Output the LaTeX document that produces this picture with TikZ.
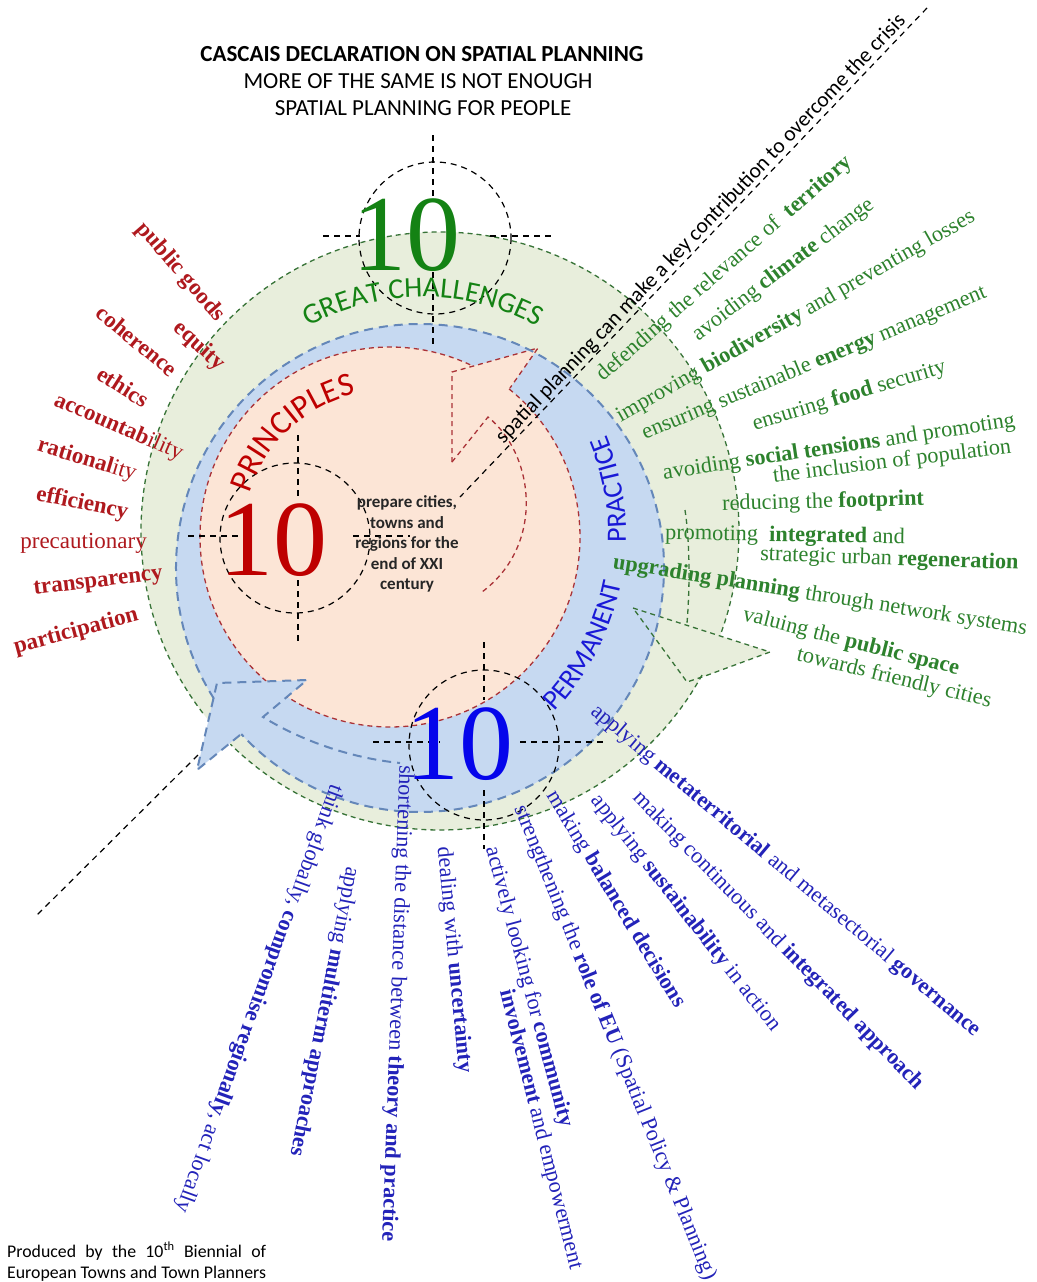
\documentclass[tikz,border=0pt]{standalone}
\usepackage{fontspec}
\setmainfont{Liberation Serif}
\newfontfamily\sansf{Carlito}
\usetikzlibrary{decorations.text}
\definecolor{gfill}{RGB}{232,238,220}
\definecolor{bfill}{RGB}{198,217,241}
\definecolor{pfill}{RGB}{252,229,214}
\definecolor{gline}{RGB}{55,115,55}
\definecolor{bline}{RGB}{100,135,185}
\definecolor{rline}{RGB}{170,50,55}
\definecolor{tred}{RGB}{175,25,30}
\definecolor{tgreen}{RGB}{45,130,45}
\definecolor{tblue}{RGB}{35,35,185}
\definecolor{pblue}{RGB}{25,25,215}
\definecolor{bigred}{RGB}{190,0,0}
\definecolor{biggreen}{RGB}{20,130,20}
\definecolor{bigblue}{RGB}{5,5,235}
\newcommand\fmtGC{\sansf\fontsize{29}{32}\selectfont\color{biggreen}}
\newcommand\fmtPR{\sansf\fontsize{33}{36}\selectfont\color{bigred}}
\newcommand\fmtPP{\sansf\fontsize{28}{30}\selectfont\color{pblue}}
\newlength\credw
\begin{document}
\begin{tikzpicture}[x=1pt,y=-1pt,
 gdash/.style={draw=gline,line width=1.3pt,dash pattern=on 5pt off 4pt},
 bdash/.style={draw=bline,line width=2pt,dash pattern=on 9pt off 6pt},
 rdash/.style={draw=rline,line width=1.3pt,dash pattern=on 5pt off 4pt},
 kdash/.style={draw=black,line width=1.2pt,dash pattern=on 6pt off 5pt},
 rlab/.style={text=tred,font=\fontsize{23}{26}\selectfont,inner sep=0pt,anchor=east},
 glab/.style={text=tgreen,font=\fontsize{22.3}{25}\selectfont,inner sep=0pt,anchor=west},
 blab/.style={text=tblue,font=\fontsize{22.3}{25}\selectfont,inner sep=0pt,anchor=west},
 bignum/.style={font=\fontsize{108}{110}\selectfont,inner sep=0pt},
]
\useasboundingbox (0,0) rectangle (1036,1282);
\fill[white] (0,0) rectangle (1036,1282);

% ---- fills
\fill[gfill] (440,531) circle[radius=299];
\fill[gfill] (633,608) -- (770,652) -- (705,676) -- (687,682) -- cycle;
\fill[bfill] (420,568) circle[radius=244];
\fill[pfill] (390,537) circle[radius=190];
\fill[pfill] (452,372) -- (538,348) -- (510,388) -- (470,420) -- cycle;

% ---- green outline
\draw[gdash] (440,531) ++(28.8:299) arc[start angle=28.8,end angle=134.5,radius=299];
\draw[gdash] (440,531) ++(142.5:299) arc[start angle=142.5,end angle=380.5,radius=299];
\draw[gdash] (633,608) -- (770,652) -- (705,676) -- (687,682) -- cycle;
\draw[gdash] (685,510) .. controls (691,550) and (689,600) .. (687,623);

% ---- red outline
\draw[rdash] (390,537) ++(-51.2:190) arc[start angle=-51.2,end angle=295.2,radius=190];
\draw[rdash] (452,462) -- (452,372) -- (538,348) -- (510,388);
\draw[rdash] (452,462) -- (488,417) .. controls (535,455) and (545,545) .. (482,592);

% ---- blue arrow
\fill[bfill] (240,735) -- (197,770) -- (217,683) -- (307,680) -- (263,717) -- cycle;
\draw[bdash] (420,568) ++(147.6:244) arc[start angle=147.6,end angle=497.1,radius=244];
\draw[bdash] (240,735) -- (197,770) -- (217,683) -- (307,680) -- (263,717) .. controls (300,740) and (350,758) .. (400,763);

% ---- black dashed helpers
\draw[kdash] (435,238) circle[radius=76];
\draw[kdash] (433,135) -- (433,198);
\draw[kdash] (433,272) -- (433,345);
\draw[kdash] (323,236) -- (360,236);
\draw[kdash] (490,236) -- (555,236);
\draw[kdash] (295,538) circle[radius=75];
\draw[kdash] (298,435) -- (298,500);
\draw[kdash] (298,580) -- (298,642);
\draw[kdash] (188,536) -- (253,536);
\draw[kdash] (353,536) -- (410,536);
\draw[kdash] (484,745) circle[radius=75];
\draw[kdash] (484,642) -- (484,700);
\draw[kdash] (484,790) -- (484,849);
\draw[kdash] (373,742) -- (440,742);
\draw[kdash] (520,742) -- (604,742);
\coordinate (d1) at (927,8);
\coordinate (d2) at (460,497);
\coordinate (d3) at (198,755);
\coordinate (d4) at (37,915);
\draw[kdash] (d1) -- (d2);
\draw[kdash] (d3) -- (d4);

% ---- big numbers
\node[bignum,text=biggreen] (ng) at (406,235) {10};
\node[bignum,text=bigred] (nr) at (273,540) {10};
\node[bignum,text=bigblue] (nb) at (459,744) {10};

% ---- curved titles
\path[decorate,decoration={text along path,text align=center,text={|\fmtGC|GREAT CHALLENGES}}]
  (423,535) ++(228:238) arc[start angle=228,end angle=312,radius=238];
\path[decorate,decoration={text along path,text align=center,text={|\fmtPR|PRINCIPLES}}]
  (390,537) ++(187:147) arc[start angle=187,end angle=267,radius=147];
\path[decorate,decoration={text along path,text align=center,text={|\fmtPP|PERMANENT}}]
  (370,534) ++(60:256) arc[start angle=60,end angle=-5,radius=256];
\path[decorate,decoration={text along path,text align=center,text={|\fmtPP|PRACTICE}}]
  (370,534) ++(15:256) arc[start angle=15,end angle=-36,radius=256];

% ---- title
\node[font=\sansf\bfseries\fontsize{23}{26}\selectfont,inner sep=0pt] (t1) at (422,54) {CASCAIS DECLARATION ON SPATIAL PLANNING};
\node[font=\sansf\fontsize{23}{26}\selectfont,inner sep=0pt] (t2) at (418,81) {MORE OF THE SAME IS NOT ENOUGH};
\node[font=\sansf\fontsize{23}{26}\selectfont,inner sep=0pt] (t3) at (423,108) {SPATIAL PLANNING FOR PEOPLE};

% ---- centre texts
\node[font=\sansf\fontsize{21.5}{24}\selectfont,rotate=46.4,inner sep=0pt] (diag) at (701,229) {spatial planning can make a key contribution to overcome the crisis};
\node[font=\sansf\bfseries\fontsize{17}{20.5}\selectfont,align=center,inner sep=0pt,text=black!85] (prep) at (407,544) {prepare cities,\\towns and\\regions for the\\end of XXI\\century};

% ---- principles
\node[rlab,rotate=-49] (r1) at (221,319) {\textbf{public goods}};
\node[rlab,rotate=-42] (r2) at (222,367) {\textbf{equity}};
\node[rlab,rotate=-39.6] (r3) at (175,372) {\textbf{coherence}};
\node[rlab,rotate=-32.5] (r4) at (147,402) {\textbf{ethics}};
\node[rlab,rotate=-23.4] (r5) at (182,455) {\textbf{accountab}ility};
\node[rlab,rotate=-16.7] (r6) at (136,475) {\textbf{rational}ity};
\node[rlab,rotate=-11.2] (r7) at (128,513) {\textbf{efficiency}};
\node[rlab] (r8) at (147,543) {precautionary};
\node[rlab,rotate=7] (r9) at (163,575) {\textbf{transparency}};
\node[rlab,rotate=15] (r10) at (138,615) {\textbf{participation}};

% ---- challenges
\node[glab,rotate=41.2] (g1) at (600,378) {defending the relevance of\ \ \textbf{territory}};
\node[glab,rotate=37.2] (g2) at (695,337) {avoiding \textbf{climate} change};
\node[glab,rotate=29.6] (g3) at (618,418) {improving \textbf{biodiversity} and preventing losses};
\node[glab,rotate=22.6] (g4) at (643,435) {ensuring sustainable \textbf{energy} management};
\node[glab,rotate=16.7] (g5) at (753,425) {ensuring \textbf{food} security};
\node[glab,rotate=8.5] (g6) at (663,474) {avoiding \textbf{social tensions} and promoting};
\node[glab,rotate=7] (g7) at (773,477) {the inclusion of population};
\node[glab,rotate=1.5] (g8) at (722,505) {reducing the \textbf{footprint}};
\node[glab,rotate=-1] (g9) at (665,534) {promoting\ \ \textbf{integrated} and};
\node[glab,rotate=-2] (g10) at (760,555) {strategic urban \textbf{regeneration}};
\node[glab,rotate=-9.1] (g11) at (613,563) {\textbf{upgrading planning} through network systems};
\node[glab,rotate=-14.2] (g12) at (743,615) {valuing the \textbf{public space}};
\node[glab,rotate=-13.6] (g13) at (797,655) {towards friendly cities};

% ---- practice
\node[blab,rotate=-40.1] (b1) at (593,709) {applying \textbf{metaterritorial} and metasectorial \textbf{governance}};
\node[blab,rotate=-45.8] (b2) at (636,795) {making continuous and \textbf{integrated approach}};
\node[blab,rotate=-52] (b3) at (595,797) {applying \textbf{sustainability} in action};
\node[blab,rotate=-58.8] (b4) at (551,793) {making \textbf{balanced decisions}};
\node[blab,rotate=-68] (b5) at (519,806) {strengthening the \textbf{role of EU} (Spatial Policy \& Planning)};
\node[blab,rotate=-75] (b6) at (491,847) {actively looking for \textbf{community}};
\node[blab,rotate=-75.8] (b7) at (505,990) {\textbf{involvement} and empowerment};
\node[blab,rotate=-84.6] (b8) at (443,847) {dealing with \textbf{uncertainty}};
\node[blab,rotate=-92.1] (b9) at (405,765) {shortening the distance between \textbf{theory and practice}};
\node[blab,rotate=-101] (b10) at (352,867) {applying \textbf{multiterm approaches}};
\node[blab,rotate=-110] (b11) at (336,785) {think globally, \textbf{compromise regionally}, act locally};

% ---- credits
\node[anchor=north west,align=left,inner sep=0pt,font=\sansf\fontsize{17.8}{21.5}\selectfont] (cred) at (7,1242)
 {\settowidth\credw{European Towns and Town Planners}\makebox[\credw][s]{Produced by the 10\textsuperscript{th} Biennial of}\\European Towns and Town Planners};
\end{tikzpicture}
\end{document}
